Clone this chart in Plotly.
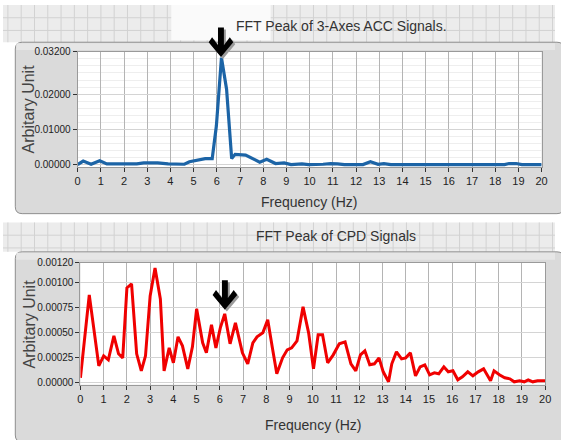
import plotly.graph_objects as go

# ---------------- data ----------------
acc_freq = [0, 0.24, 0.58, 0.95, 1.26, 1.75, 2.24, 2.55, 2.85, 3.45,
            3.9, 4.6, 4.82, 5.27, 5.5, 5.8, 5.98, 6.2, 6.42, 6.64,
            6.79, 7.24, 7.62, 7.85, 8.15, 8.53, 8.9, 9.2, 9.67, 9.95,
            10.58, 10.9, 11.2, 11.5, 12.3, 12.62, 12.95, 13.2, 13.5, 14.0,
            15.0, 16.0, 17.0, 18.0, 18.4, 18.6, 18.9, 19.15, 19.5, 20]
acc_amp = [0.0001, 0.0011, 0.0002, 0.0012, 0.0003, 0.0003, 0.0005, 0.0003, 0.0006, 0.0006,
           0.0003, 0.0002, 0.0009, 0.0014, 0.0018, 0.0018, 0.011, 0.0303, 0.0214, 0.0018,
           0.003, 0.0028, 0.0014, 0.0008, 0.0016, 0.0004, 0.0006, 0.0001, 0.0003, 0.0001,
           0.0002, 0.0004, 0.0003, 0.0001, 0.0001, 0.0009, 0.0002, 0.0004, 0.0001, 0.0001,
           0.0001, 0.0001, 0.0001, 0.0001, 0.0001, 0.0004, 0.0004, 0.0001, 0.0001, 0.0001]

cpd_freq = [0, 0.38, 0.79, 1.0, 1.2, 1.44, 1.64, 1.82, 2.0, 2.2,
            2.42, 2.62, 2.8, 3.0, 3.21, 3.44, 3.6, 3.82, 4.0, 4.2,
            4.39, 4.62, 4.82, 5.0, 5.26, 5.42, 5.64, 5.83, 6.02, 6.21,
            6.44, 6.67, 6.97, 7.2, 7.42, 7.6, 7.85, 8.06, 8.26, 8.45,
            8.7, 8.9, 9.09, 9.32, 9.58, 9.82, 10.03, 10.23, 10.42, 10.64,
            10.88, 11.14, 11.39, 11.64, 11.85, 12.05, 12.24, 12.45, 12.65, 12.85,
            13.03, 13.26, 13.4, 13.6, 13.82, 14.0, 14.2, 14.42, 14.62, 14.82,
            15.03, 15.23, 15.42, 15.64, 15.83, 16.03, 16.24, 16.44, 16.67, 16.89,
            17.12, 17.35, 17.65, 17.8, 18.03, 18.26, 18.48, 18.67, 18.9, 19.1,
            19.27, 19.47, 19.67, 19.85, 20.0]
cpd_amp = [0.00005, 0.00088, 0.00017, 0.00027, 0.00023, 0.00047, 0.00029, 0.00025, 0.00095, 0.00099,
           0.00029, 0.00012, 0.00027, 0.00087, 0.00115, 0.00084, 0.00012, 0.00035, 0.00020, 0.00046,
           0.00037, 0.00014, 0.00036, 0.00074, 0.00040, 0.00030, 0.00058, 0.00035, 0.00055, 0.00069,
           0.00039, 0.00060, 0.00030, 0.00019, 0.00040, 0.00046, 0.00050, 0.00063, 0.00035, 0.00009,
           0.00025, 0.00033, 0.00035, 0.00042, 0.00076, 0.00050, 0.00014, 0.00048, 0.00048, 0.00020,
           0.00028, 0.00039, 0.00041, 0.00019, 0.00012, 0.00028, 0.00032, 0.00018, 0.00019, 0.00025,
           0.00011, 0.00001, 0.00019, 0.00031, 0.00024, 0.00025, 0.00030, 0.00007, 0.00016, 0.00018,
           0.00008, 0.00010, 0.00009, 0.00016, 0.00011, 0.00012, 0.00003, 0.00006, 0.00011, 0.00007,
           0.00011, 0.00014, 0.00002, 0.00012, 0.00008, 0.00005, 0.00004, 0.00001, 0.00002, 0.00001,
           0.00003, 0.00001, 0.00002, 0.00002, 0.00002]

x_ticks = list(range(0, 21))
acc_yticks = [0, 0.01, 0.02, 0.032]
cpd_yticks = [0, 0.00025, 0.0005, 0.00075, 0.001, 0.0012]

titles = ["FFT Peak of 3-Axes ACC Signals.", "FFT Peak of CPD Signals"]
x_title = "Frequency (Hz)"
y_title = "Arbitary Unit"

# ---------------- layout helpers ----------------
W, H = 561, 440
def px(x): return x / W
def py(y): return 1 - y / H

FONT = "Liberation Sans, Arial, sans-serif"

fig = go.Figure()
fig.add_trace(go.Scatter(x=acc_freq, y=acc_amp, mode="lines",
                         line=dict(color="#1c64a6", width=3.2), xaxis="x", yaxis="y",
                         showlegend=False))
fig.add_trace(go.Scatter(x=cpd_freq, y=cpd_amp, mode="lines",
                         line=dict(color="#f00000", width=3), xaxis="x2", yaxis="y2",
                         showlegend=False))

# plot area pixel boxes
top_box = dict(x0=75.85, x1=547.4, y_top=47.7, y_zero=163.3)
bot_box = dict(x0=78.7, x1=551.0, y_top=263.3, y_zero=385.7)

acc_range = [-0.0006, 0.032]
cpd_range = [-0.00002, 0.0012]

def ydomain(box, rng):
    scale = (box["y_zero"] - box["y_top"]) / rng[1]
    y_bottom = box["y_zero"] - rng[0] * scale
    return [py(y_bottom), py(box["y_top"])]

ytickfont = dict(family=FONT, size=10, color="#222")
xtickfont = dict(family=FONT, size=11, color="#222")
axis_common = dict(showline=True, linecolor="#9a9a9a", linewidth=1, mirror=True,
                   ticks="outside", ticklen=4, tickcolor="#333",
                   zeroline=False, showgrid=True)

fig.update_layout(
    autosize=True, margin=dict(l=0, r=0, t=0, b=0),
    paper_bgcolor="white", plot_bgcolor="rgba(0,0,0,0)",
    xaxis=dict(domain=[px(top_box["x0"]), px(top_box["x1"])], range=[0, 20],
               tickvals=x_ticks, gridcolor="#b4b4b4", anchor="y", tickfont=xtickfont,
               **axis_common),
    yaxis=dict(domain=ydomain(top_box, acc_range), range=acc_range, tickvals=acc_yticks,
               tickformat=".5f", gridcolor="#d4d4d4", anchor="x", tickfont=ytickfont,
               minor=dict(dtick=0.002, tick0=0, showgrid=True, gridcolor="#eeeeee", ticks=""),
               **axis_common),
    xaxis2=dict(domain=[px(bot_box["x0"]), px(bot_box["x1"])], range=[0, 20],
                tickvals=x_ticks, gridcolor="#b4b4b4", anchor="y2", tickfont=xtickfont,
                **axis_common),
    yaxis2=dict(domain=ydomain(bot_box, cpd_range), range=cpd_range, tickvals=cpd_yticks,
                tickformat=".5f", gridcolor="#d4d4d4", anchor="x2", tickfont=ytickfont,
                **axis_common),
)

shapes = []
# header bands with LabVIEW-like grid pattern
for (y0, y1) in [(0, 38), (222, 252)]:
    shapes.append(dict(type="rect", xref="paper", yref="paper", layer="below",
                       x0=px(0), x1=px(W), y0=py(y1), y1=py(y0),
                       fillcolor="#ececec", line=dict(width=0)))
    gx = 5.0
    while gx < W:
        shapes.append(dict(type="line", xref="paper", yref="paper", layer="below",
                           x0=px(gx), x1=px(gx), y0=py(y1), y1=py(y0),
                           line=dict(color="#d2d2d2", width=1)))
        gx += 13.5
    gy = y0 + 13
    while gy < y1:
        shapes.append(dict(type="line", xref="paper", yref="paper", layer="below",
                           x0=px(0), x1=px(W), y0=py(gy), y1=py(gy),
                           line=dict(color="#d2d2d2", width=1)))
        gy += 13

# white patch behind the top arrow
shapes.append(dict(type="rect", xref="paper", yref="paper", layer="below",
                   x0=px(171), x1=px(272), y0=py(36), y1=py(0),
                   fillcolor="#fafafa", line=dict(width=0)))

def rounded_path(x0, y0, x1, y1, r):
    pts = []
    pts.append(f"M {px(x0 + r)},{py(y0)}")
    pts.append(f"L {px(x1 - r)},{py(y0)}")
    pts.append(f"Q {px(x1)},{py(y0)} {px(x1)},{py(y0 + r)}")
    pts.append(f"L {px(x1)},{py(y1 - r)}")
    pts.append(f"Q {px(x1)},{py(y1)} {px(x1 - r)},{py(y1)}")
    pts.append(f"L {px(x0 + r)},{py(y1)}")
    pts.append(f"Q {px(x0)},{py(y1)} {px(x0)},{py(y1 - r)}")
    pts.append(f"L {px(x0)},{py(y0 + r)}")
    pts.append(f"Q {px(x0)},{py(y0)} {px(x0 + r)},{py(y0)}")
    return " ".join(pts) + " Z"

for (y0, y1) in [(38, 213), (252, 446)]:
    shapes.append(dict(type="path", xref="paper", yref="paper", layer="below",
                       path=rounded_path(12.5, y0, 570, y1, 7),
                       fillcolor="#dadada", line=dict(color="#8e8e8e", width=1)))
    shapes.append(dict(type="rect", xref="paper", yref="paper", layer="below",
                       x0=px(13.5), x1=px(W), y0=py(y0 + 8), y1=py(y0 + 1),
                       fillcolor="#e6e6e6", line=dict(width=0)))

# white plot areas
for box, rng in [(top_box, acc_range), (bot_box, cpd_range)]:
    d = ydomain(box, rng)
    shapes.append(dict(type="rect", xref="paper", yref="paper", layer="below",
                       x0=px(box["x0"]), x1=px(box["x1"]), y0=d[0], y1=d[1],
                       fillcolor="white", line=dict(width=0)))

def arrow_path(cx, tip, dx=0, dy=0):
    pts = [(-3, -30), (3, -30), (3, -12), (9, -20), (12.5, -15), (0, 0),
           (-12.5, -15), (-9, -20), (-3, -12)]
    s = []
    for i, (ax, ay) in enumerate(pts):
        s.append(("M " if i == 0 else "L ") + f"{px(cx + ax + dx)},{py(tip + ay + dy)}")
    return " ".join(s) + " Z"

for cx, tip in [(221.5, 53), (225.5, 311)]:
    shapes.append(dict(type="path", xref="paper", yref="paper", layer="above",
                       path=arrow_path(cx, tip, 2, 2), fillcolor="#9a9a9a",
                       line=dict(width=0)))
    shapes.append(dict(type="path", xref="paper", yref="paper", layer="above",
                       path=arrow_path(cx, tip), fillcolor="black",
                       line=dict(width=0)))

fig.update_layout(shapes=shapes)

annotations = []
for t, (cx, cy) in zip(titles, [(344, 21), (338, 236)]):
    annotations.append(dict(text=t, x=px(cx), y=py(cy), xref="paper", yref="paper",
                            showarrow=False, xanchor="center", yanchor="middle",
                            font=dict(family=FONT, size=14, color="#333")))
for (cx, cy) in [(311, 201), (315, 429)]:
    annotations.append(dict(text=x_title, x=px(cx), y=py(cy), xref="paper", yref="paper",
                            showarrow=False, xanchor="center", yanchor="middle",
                            font=dict(family=FONT, size=14, color="#333")))
for (cx, cy) in [(26, 106), (26.5, 326)]:
    annotations.append(dict(text=y_title, x=px(cx), y=py(cy), xref="paper", yref="paper",
                            showarrow=False, xanchor="center", yanchor="middle", textangle=-90,
                            font=dict(family=FONT, size=16, color="#444")))
fig.update_layout(annotations=annotations)

page_fix = """
(function(){
  var de = document.documentElement, b = document.body;
  [de, b].forEach(function(e){
    e.style.margin = '0'; e.style.padding = '0'; e.style.overflow = 'hidden';
    e.style.width = '100%'; e.style.height = '100%';
  });
  var gd = document.querySelector('.plotly-graph-div');
  if (gd) {
    gd.parentNode.style.width = '100%'; gd.parentNode.style.height = '100%';
    gd.style.width = '100%'; gd.style.height = '100%';
    Plotly.Plots.resize(gd);
  }
})();
"""

fig.write_html("out.html", default_width="100%", default_height="100%",
               config={"displayModeBar": False, "responsive": True},
               post_script=page_fix)
